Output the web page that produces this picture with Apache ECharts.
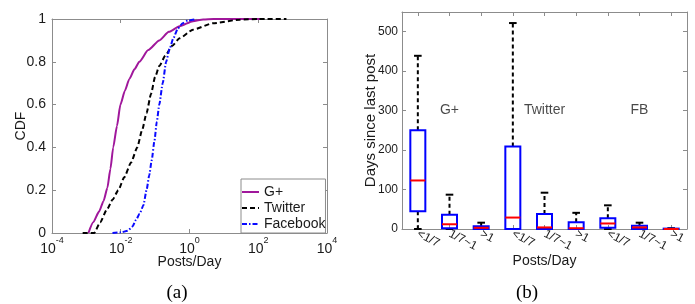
<!DOCTYPE html>
<html>
<head>
<meta charset="utf-8">
<script src="https://cdn.jsdelivr.net/npm/echarts@6/dist/echarts.min.js"></script>
<style>
html,body{margin:0;padding:0;background:#fff;}
#c{width:695px;height:304px;}
</style>
</head>
<body>
<div id="c"></div>
<script>
// ---- Panel (a): CDF of posts/day (x = posts/day, y = CDF)
const gplusX = [0.00115, 0.00158, 0.00234, 0.00316, 0.00407, 0.00501, 0.00603, 0.00776, 0.00977, 0.0132, 0.0178, 0.0251, 0.0347, 0.0631, 0.132, 0.251, 0.513, 1.26, 2.51, 5.0, 138];
const gplusY = [0, 0.05, 0.10, 0.15, 0.21, 0.30, 0.40, 0.50, 0.60, 0.665, 0.72, 0.765, 0.80, 0.855, 0.90, 0.94, 0.966, 0.99, 0.998, 1, 1];
const twitterX = [0.00078, 0.0017, 0.00251, 0.00398, 0.00575, 0.00851, 0.0126, 0.02, 0.0302, 0.0417, 0.0562, 0.0759, 0.1, 0.132, 0.2, 0.316, 0.513, 1.26, 4.79, 28.8, 100, 661];
const twitterY = [0, 0, 0.05, 0.11, 0.155, 0.20, 0.26, 0.33, 0.40, 0.48, 0.56, 0.65, 0.73, 0.78, 0.83, 0.875, 0.91, 0.95, 0.98, 0.997, 1, 1];
const facebookX = [0.00575, 0.01, 0.0158, 0.0219, 0.0275, 0.0355, 0.0457, 0.0562, 0.0676, 0.0794, 0.0955, 0.112, 0.132, 0.166, 0.209, 0.263, 0.339, 0.457, 0.631, 0.891, 1.58];
const facebookY = [0, 0.003, 0.01, 0.03, 0.06, 0.09, 0.13, 0.20, 0.27, 0.34, 0.43, 0.52, 0.60, 0.70, 0.80, 0.86, 0.91, 0.955, 0.98, 0.993, 1];
const logTicks = [1e-4, 1e-2, 1, 1e2, 1e4];

// ---- Panel (b): days since last post, box stats per posts/day bucket
const boxCategories = ['<1/7', '1/7~1', '>1', '<1/7', '1/7~1', '>1', '<1/7', '1/7~1', '>1'];
const whiskerLow = [0, 0, 0, 0, 0, 0, 0, 0, 0];
const quartile1  = [45, 2, 0, 0, 0, 0, 3, 0, 0];
const medians    = [123, 12, 3, 29, 4, 2, 14, 4, 0];
const quartile3  = [250, 36, 7, 209, 38, 17, 27, 8, 1];
const whiskerHigh= [439, 87, 16, 522, 92, 41, 60, 16, 2];
const groupNames = ['G+', 'Twitter', 'FB'];
const groupCategoryIndex = [1, 4, 7];

const SANS = '"Liberation Sans", Arial, Helvetica, sans-serif';
const FRAME = '#8c8c8c';
const TXT = '#1a1a1a';

function pairs(xs, ys) { return xs.map((x, i) => [x, ys[i]]); }
const boxData = boxCategories.map((c, i) => [i, whiskerLow[i], quartile1[i], medians[i], quartile3[i], whiskerHigh[i]]);

function frameAxis(extra) {
  return Object.assign({
    axisLine: { show: true, onZero: false, lineStyle: { color: FRAME, width: 1 } },
    axisTick: { show: true, inside: true, length: 4, lineStyle: { color: FRAME } },
    splitLine: { show: false },
    axisLabel: { show: false },
    nameMoveOverlap: false
  }, extra);
}

const chart = echarts.init(document.getElementById('c'), null, { renderer: 'canvas' });

const option = {
  animation: false,
  backgroundColor: '#fff',
  textStyle: { fontFamily: SANS },
  grid: [
    { left: 52, top: 19, width: 275, height: 214 },
    { left: 402, top: 12, width: 285, height: 217 }
  ],
  xAxis: [
    frameAxis({
      gridIndex: 0, type: 'log', logBase: 10, min: 1e-4, max: 1e4, position: 'bottom',
      axisTick: { show: true, inside: true, length: 4, lineStyle: { color: FRAME }, customValues: logTicks },
      axisLabel: {
        show: true, customValues: logTicks, margin: 3, color: TXT,
        formatter: function (v) {
          const e = Math.round(Math.log10(v));
          return '{b|10}{s|' + e + '}';
        },
        rich: {
          b: { fontSize: 14, fontFamily: SANS, color: TXT, lineHeight: 20, verticalAlign: 'bottom' },
          s: { fontSize: 9, fontFamily: SANS, color: TXT, lineHeight: 10, verticalAlign: 'top' }
        }
      },
      name: 'Posts/Day', nameLocation: 'middle', nameGap: 22,
      nameTextStyle: { fontSize: 14, color: TXT, fontFamily: SANS }
    }),
    frameAxis({
      gridIndex: 0, type: 'log', logBase: 10, min: 1e-4, max: 1e4, position: 'top',
      axisTick: { show: true, inside: true, length: 4, lineStyle: { color: FRAME }, customValues: logTicks }
    }),
    frameAxis({
      gridIndex: 1, type: 'category', data: boxCategories, boundaryGap: true, position: 'bottom',
      axisTick: { show: true, inside: true, length: 4, alignWithLabel: true, interval: 0, lineStyle: { color: FRAME } },
      axisLabel: { show: true, interval: 0, rotate: -28, margin: 4, fontSize: 12, color: TXT, fontFamily: SANS },
      name: 'Posts/Day', nameLocation: 'middle', nameGap: 25,
      nameTextStyle: { fontSize: 14, color: TXT, fontFamily: SANS }
    }),
    frameAxis({
      gridIndex: 1, type: 'category', data: boxCategories, boundaryGap: true, position: 'top',
      axisTick: { show: true, inside: true, length: 4, alignWithLabel: true, interval: 0, lineStyle: { color: FRAME } }
    })
  ],
  yAxis: [
    frameAxis({
      gridIndex: 0, type: 'value', min: 0, max: 1, interval: 0.2, position: 'left',
      axisLabel: { show: true, fontSize: 14, color: TXT, margin: 6, fontFamily: SANS,
        formatter: v => String(Math.round(v * 10) / 10) },
      name: 'CDF', nameLocation: 'middle', nameGap: 24,
      nameTextStyle: { fontSize: 14, color: TXT, fontFamily: SANS }
    }),
    frameAxis({ gridIndex: 0, type: 'value', min: 0, max: 1, interval: 0.2, position: 'right' }),
    frameAxis({
      gridIndex: 1, type: 'value', min: 0, max: 550, interval: 100, position: 'left',
      axisLabel: { show: true, fontSize: 12, color: TXT, margin: 4, fontFamily: SANS, showMaxLabel: false,
        formatter: v => (v % 100 === 0 ? String(v) : '') },
      name: 'Days since last post', nameLocation: 'middle', nameGap: 24,
      nameTextStyle: { fontSize: 15, color: TXT, fontFamily: SANS }
    }),
    frameAxis({ gridIndex: 1, type: 'value', min: 0, max: 550, interval: 100, position: 'right' })
  ],
  legend: {
    show: true, orient: 'vertical', left: 241, top: 179,
    data: ['G+', 'Twitter', 'Facebook'],
    itemWidth: 17, itemHeight: 10, itemGap: 2,
    padding: [6, 0, 2, 0],
    itemStyle: { opacity: 0 },
    backgroundColor: '#fff', borderColor: FRAME, borderWidth: 1, borderRadius: 0,
    textStyle: { fontSize: 14, color: TXT, fontFamily: SANS }
  },
  series: [
    {
      name: 'G+', type: 'line', xAxisIndex: 0, yAxisIndex: 0, data: pairs(gplusX, gplusY),
      symbol: 'none', smooth: 0.2, smoothMonotone: 'x',
      lineStyle: { color: '#a0179b', width: 2, type: 'solid' }, itemStyle: { color: '#a0179b' }
    },
    {
      name: 'Twitter', type: 'line', xAxisIndex: 0, yAxisIndex: 0, data: pairs(twitterX, twitterY),
      symbol: 'none', smooth: 0.2, smoothMonotone: 'x',
      lineStyle: { color: '#000', width: 2, type: [5, 3] }, itemStyle: { color: '#000' }
    },
    {
      name: 'Facebook', type: 'line', xAxisIndex: 0, yAxisIndex: 0, data: pairs(facebookX, facebookY),
      symbol: 'none', smooth: 0.2, smoothMonotone: 'x',
      lineStyle: { color: '#0a0aff', width: 2, type: [5, 2, 1.5, 2] }, itemStyle: { color: '#0a0aff' }
    },
    {
      name: 'boxes', type: 'custom', xAxisIndex: 2, yAxisIndex: 2, data: boxData,
      encode: { x: 0, y: [1, 2, 3, 4, 5] },
      clip: false,
      renderItem: function (params, api) {
        const x = api.value(0);
        const pL = api.coord([x, api.value(1)]);
        const p1 = api.coord([x, api.value(2)]);
        const pM = api.coord([x, api.value(3)]);
        const p3 = api.coord([x, api.value(4)]);
        const pH = api.coord([x, api.value(5)]);
        const cx = pM[0];
        const hw = 7.5, cw = 3.8;
        const wStyle = { stroke: '#000', lineWidth: 2, lineDash: [4, 3] };
        const cStyle = { stroke: '#000', lineWidth: 2 };
        return {
          type: 'group',
          children: [
            { type: 'line', shape: { x1: cx, y1: p3[1], x2: cx, y2: pH[1] }, style: wStyle },
            { type: 'line', shape: { x1: cx, y1: p1[1], x2: cx, y2: pL[1] }, style: wStyle },
            { type: 'line', shape: { x1: cx - cw, y1: pH[1], x2: cx + cw, y2: pH[1] }, style: cStyle },
            { type: 'line', shape: { x1: cx - cw, y1: pL[1], x2: cx + cw, y2: pL[1] }, style: cStyle },
            { type: 'rect', shape: { x: cx - hw, y: p3[1], width: 2 * hw, height: p1[1] - p3[1] },
              style: { fill: 'rgba(255,255,255,0)', stroke: '#0000ff', lineWidth: 2 } },
            { type: 'line', shape: { x1: cx - hw, y1: pM[1], x2: cx + hw, y2: pM[1] },
              style: { stroke: '#ff0000', lineWidth: 2 } }
          ]
        };
      }
    },
    {
      name: 'groups', type: 'scatter', xAxisIndex: 2, yAxisIndex: 2,
      data: groupNames.map((n, i) => ({ name: n, value: [groupCategoryIndex[i], 300] })),
      symbolSize: 0, silent: true,
      label: { show: true, position: 'inside', formatter: p => p.name, fontSize: 14, color: TXT, fontFamily: SANS }
    }
  ],
  graphic: [
    { type: 'text', x: 177, y: 293, style: { text: '(a)', fontSize: 19, fontFamily: '"Liberation Serif", "DejaVu Serif", serif', fill: '#000', align: 'center', verticalAlign: 'middle' } },
    { type: 'text', x: 527, y: 293, style: { text: '(b)', fontSize: 19, fontFamily: '"Liberation Serif", "DejaVu Serif", serif', fill: '#000', align: 'center', verticalAlign: 'middle' } }
  ]
};
chart.setOption(option);
</script>
</body>
</html>
